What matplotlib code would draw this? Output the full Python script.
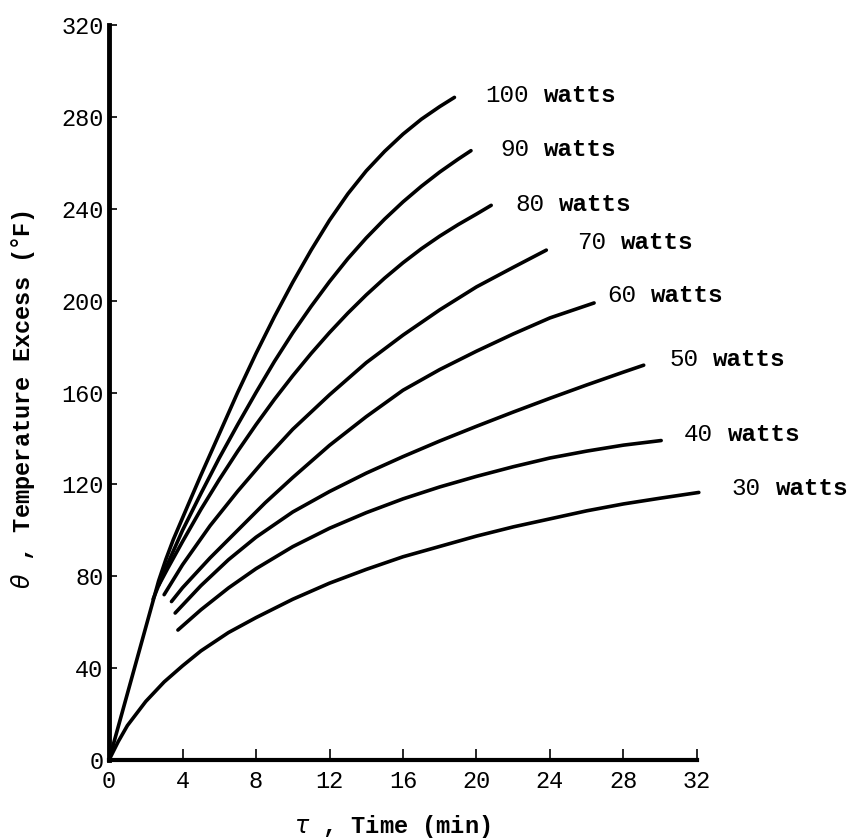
import numpy as np
import matplotlib.pyplot as plt

# heating curves: temperature excess (deg F) vs time (min)
t_100 = [0, 2.7, 3.1, 3.5, 4.3, 5, 6, 7, 8, 9, 10, 11, 12, 13, 14, 15, 16, 17, 18, 18.8]
th_100 = [0, 78, 87.5, 96, 111, 124, 142, 160, 177, 193, 208, 222, 235, 246.5, 256.5, 265, 272.5, 279, 284.5, 288.5]

t_90 = [2.4, 3, 4, 5, 6, 7, 8, 9, 10, 11, 12, 13, 14, 15, 16, 17, 18, 19, 19.7]
th_90 = [70, 82, 100, 116, 131.5, 146, 160, 173.5, 186, 197.5, 208.3, 218.3, 227.3, 235.5, 243, 249.8, 256, 261.6, 265.3]

t_80 = [2.7, 3.2, 4, 5, 6, 7, 8, 9, 10, 11, 12, 13, 14, 15, 16, 17, 18, 19, 20, 20.8]
th_80 = [76, 83.5, 95.1, 109.1, 122.1, 134.4, 146, 157, 167.3, 177, 186.1, 194.6, 202.5, 209.8, 216.5, 222.6, 228.1, 233.1, 237.7, 241.5]

t_70 = [3.0, 4.0, 5.5, 7.0, 8.5, 10.0, 12.0, 14.0, 16.0, 18.0, 20.0, 22.0, 23.8]
th_70 = [72, 85, 102, 117, 131, 144, 159, 173, 185, 196, 206, 214.5, 222]

t_60 = [3.4, 4.0, 5.5, 7.0, 8.5, 10.0, 12.0, 14.0, 16.0, 18.0, 20.0, 22.0, 24.0, 26.4]
th_60 = [69, 75, 88, 100, 112, 123, 137, 149.5, 161, 170, 178, 185.5, 192.5, 199]

t_50 = [3.6, 5.0, 6.5, 8.0, 10.0, 12.0, 14.0, 16.0, 18.0, 20.0, 22.0, 24.0, 26.0, 28.0, 29.1]
th_50 = [64, 75.9, 87.2, 97, 108, 116.9, 124.9, 132.1, 138.9, 145.3, 151.5, 157.5, 163.3, 168.9, 171.9]

t_40 = [3.75, 5.0, 6.5, 8.0, 10.0, 12.0, 14.0, 16.0, 18.0, 20.0, 22.0, 24.0, 26.0, 28.0, 30.05]
th_40 = [56.6, 65.4, 74.9, 83.3, 92.9, 100.9, 107.7, 113.7, 118.9, 123.5, 127.7, 131.5, 134.5, 137.1, 139.1]

t_30 = [0, 0.5, 1, 2, 3, 4, 5, 6.5, 8, 10, 12, 14, 16, 18, 20, 22, 24, 26, 28, 30, 32.1]
th_30 = [0, 8, 15, 25.5, 34, 41, 47.5, 55.5, 62, 70, 77, 83, 88.5, 93, 97.5, 101.5, 105, 108.5, 111.5, 114, 116.5]

# curve labels: power, label position (min, deg F)
powers = ['100', '90', '80', '70', '60', '50', '40', '30']
label_t = [20.5, 21.3, 22.1, 25.5, 27.1, 30.5, 31.3, 33.9]
label_th = [289.5, 265.6, 242, 225.5, 202.4, 174.5, 141.7, 118.4]

x_ticks = [0, 4, 8, 12, 16, 20, 24, 28, 32]
y_ticks = [0, 40, 80, 120, 160, 200, 240, 280, 320]

curves = [(t_100, th_100), (t_90, th_90), (t_80, th_80), (t_70, th_70),
          (t_60, th_60), (t_50, th_50), (t_40, th_40), (t_30, th_30)]

font = 'Liberation Mono'
fs = 17.5

fig = plt.figure(figsize=(8.53, 8.40), dpi=100)
ax = fig.add_axes([0.1278, 0.0952, 0.6893, 0.875])

for t, th in curves:
    ax.plot(t, th, color='black', lw=2.6, solid_capstyle='round',
            solid_joinstyle='round', clip_on=False)

for p, lx, ly in zip(powers, label_t, label_th):
    ax.text(lx, ly, p, fontfamily=font, fontsize=fs, va='center', ha='left')
    ax.annotate('watts', xy=(lx, ly), xytext=(0.6 * fs * (len(p) + 1), 0),
                textcoords='offset points', fontfamily=font, fontsize=fs,
                fontweight='bold', va='center', ha='left', annotation_clip=False)

ax.set_xlim(0, 32)
ax.set_ylim(0, 320)
ax.set_xticks(x_ticks)
ax.set_yticks(y_ticks)
ax.set_xticklabels([str(v) for v in x_ticks], fontfamily=font, fontsize=17)
ax.set_yticklabels([str(v) for v in y_ticks], fontfamily=font, fontsize=17)
ax.tick_params(axis='x', direction='in', length=8, width=1.2, pad=7)
ax.tick_params(axis='y', direction='in', length=6, width=1.2, pad=4)

for s in ['top', 'right']:
    ax.spines[s].set_visible(False)
ax.spines['left'].set_linewidth(3.5)
ax.spines['bottom'].set_linewidth(3.0)

ax.set_xlabel(r'$\tau$ , Time (min)', fontfamily=font, fontsize=17, fontweight='bold')
ax.set_ylabel(r'$\theta$ , Temperature Excess ($\degree$F)', fontfamily=font, fontsize=17,
              fontweight='bold')
ax.xaxis.set_label_coords(0.481, -0.072)
ax.yaxis.set_label_coords(-0.122, 0.49)

fig.savefig('out.png', dpi=100)
